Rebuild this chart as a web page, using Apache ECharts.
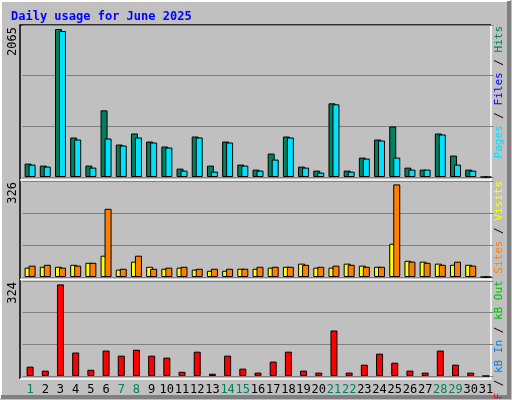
<!DOCTYPE html>
<html>
<head>
<meta charset="utf-8">
<script src="https://cdn.jsdelivr.net/npm/echarts@6/dist/echarts.min.js"></script>
<style>
  html, body { margin: 0; padding: 0; background: #c0c0c0; }
  #chart { width: 512px; height: 400px; }
</style>
</head>
<body>
<div id="chart"></div>
<script>
const days = ['1','2','3','4','5','6','7','8','9','10','11','12','13','14','15','16','17','18','19','20','21','22','23','24','25','26','27','28','29','30','31'];
const weekend = ['1','7','8','14','15','21','22','28','29'];
const hits = [187,159,2065,551,159,930,453,607,495,425,117,565,159,495,173,103,327,565,145,89,1028,89,271,523,705,131,103,607,299,103,0];
const pages = [173,145,2037,523,131,537,439,551,481,411,89,551,75,481,159,89,243,551,131,61,1014,75,257,509,271,103,103,593,173,89,0];
const visits = [33,36,36,43,50,75,26,54,36,29,33,26,22,22,29,29,33,36,47,33,33,47,40,36,117,57,54,47,43,43,0];
const sites = [40,43,33,40,50,240,29,75,29,33,36,29,29,29,29,36,36,36,43,36,40,43,36,36,326,54,50,43,54,40,0];
const kbytes = [33,19,324,83,22,90,72,93,72,65,15,86,8,72,26,12,51,86,19,12,161,12,40,79,47,19,12,90,40,12,0];

const chart = echarts.init(document.getElementById('chart'));

const mono = 'DejaVu Sans Mono';
const barBorder = { borderColor: '#000', borderWidth: 1 };
const f11 = '11px ' + mono;

// 3D inset frame: black top/left, white bottom/right
function frame(x1, y1, x2, y2) {
  return [
    { type: 'polyline', shape: { points: [[x1, y2], [x1, y1], [x2, y1]] }, style: { stroke: '#000', lineWidth: 1.5, fill: null } },
    { type: 'polyline', shape: { points: [[x2, y1], [x2, y2], [x1, y2]] }, style: { stroke: '#fff', lineWidth: 1.5, fill: null } }
  ];
}
function leftLabel(y, t) {
  return { type: 'text', x: 13, y: y, rotation: Math.PI / 2, style: { text: t, fill: '#000', font: '12px ' + mono, align: 'right', verticalAlign: 'middle' } };
}
// rotated coloured label, text ends at y (reads bottom-to-top)
function sideText(y, text, colors) {
  const rich = {};
  Object.keys(colors).forEach(k => { rich[k] = { fill: colors[k], font: f11 }; });
  return { type: 'text', x: 499, y: y, rotation: Math.PI / 2, style: { text: text, font: f11, align: 'right', verticalAlign: 'middle', rich: rich } };
}

function yAx(idx, max) {
  return { gridIndex: idx, type: 'value', min: 0, max: max, interval: max / 3,
    axisLabel: { show: false }, axisLine: { show: false }, axisTick: { show: false },
    splitLine: { lineStyle: { color: '#808080', width: 1 } } };
}
function xAx(idx, show) {
  return { gridIndex: idx, type: 'category', data: days,
    axisLine: { show: false }, axisTick: { show: false },
    axisLabel: show ? {
      interval: 0, margin: 8, fontFamily: mono, fontSize: 12, color: '#000',
      formatter: d => weekend.includes(d) ? '{w|' + d + '}' : d,
      rich: { w: { color: '#00805c', fontFamily: mono, fontSize: 12 } }
    } : { show: false } };
}

const option = {
  backgroundColor: '#c0c0c0',
  animation: false,
  title: { text: 'Daily usage for June 2025', left: 6, top: 6,
    textStyle: { color: '#0000ff', fontFamily: mono, fontSize: 12, fontWeight: 'bold' } },
  grid: [
    { left: 22.5, right: 18.5, top: 25, height: 152, borderWidth: 0 },
    { left: 22.5, right: 18.5, top: 181, height: 96, borderWidth: 0 },
    { left: 22.5, right: 18.5, top: 281, height: 95, borderWidth: 0 }
  ],
  xAxis: [xAx(0, false), xAx(1, false), xAx(2, true)],
  yAxis: [yAx(0, 2121), yAx(1, 338), yAx(2, 336)],
  series: [
    { name: 'Hits', type: 'bar', xAxisIndex: 0, yAxisIndex: 0, data: hits, barWidth: 7, barGap: '-43%', itemStyle: Object.assign({ color: '#00805c' }, barBorder) },
    { name: 'Pages', type: 'bar', xAxisIndex: 0, yAxisIndex: 0, data: pages, barWidth: 7, itemStyle: Object.assign({ color: '#00e0ff' }, barBorder) },
    { name: 'Visits', type: 'bar', xAxisIndex: 1, yAxisIndex: 1, data: visits, barWidth: 7, barGap: '-43%', itemStyle: Object.assign({ color: '#ffff00' }, barBorder) },
    { name: 'Sites', type: 'bar', xAxisIndex: 1, yAxisIndex: 1, data: sites, barWidth: 7, itemStyle: Object.assign({ color: '#ff8000' }, barBorder) },
    { name: 'kB F', type: 'bar', xAxisIndex: 2, yAxisIndex: 2, data: kbytes, barWidth: 7, itemStyle: Object.assign({ color: '#ff0000' }, barBorder) }
  ],
  graphic: [
    { type: 'polyline', shape: { points: [[1, 398], [1, 1], [510, 1]] }, style: { stroke: '#fff', lineWidth: 2, fill: null } },
    { type: 'polyline', shape: { points: [[509, 1], [509, 397], [1, 397]] }, style: { stroke: '#808080', lineWidth: 4, fill: null } },
    ...frame(20, 25, 491, 379),
    { type: 'line', shape: { x1: 20, y1: 180, x2: 491, y2: 180 }, style: { stroke: '#fff', lineWidth: 1.5 } },
    { type: 'line', shape: { x1: 20, y1: 279.5, x2: 491, y2: 279.5 }, style: { stroke: '#fff', lineWidth: 1.5 } },
    leftLabel(27, '2065'),
    leftLabel(182, '326'),
    leftLabel(282, '324'),
    sideText(26, '{a|Pages}{b| / }{c|Files}{b| / }{d|Hits}',
      { a: '#00e0ff', b: '#000', c: '#0000ff', d: '#00805c' }),
    sideText(181, '{a|kB F}{b| / }{c|kB In}{b| / }{d|kB Out}{e| Sites}{b| / }{f|Visits}',
      { a: '#ff0000', b: '#000', c: '#0080ff', d: '#00c000', e: '#ff8000', f: '#ffff00' })
  ]
};
chart.setOption(option);
</script>
</body>
</html>
